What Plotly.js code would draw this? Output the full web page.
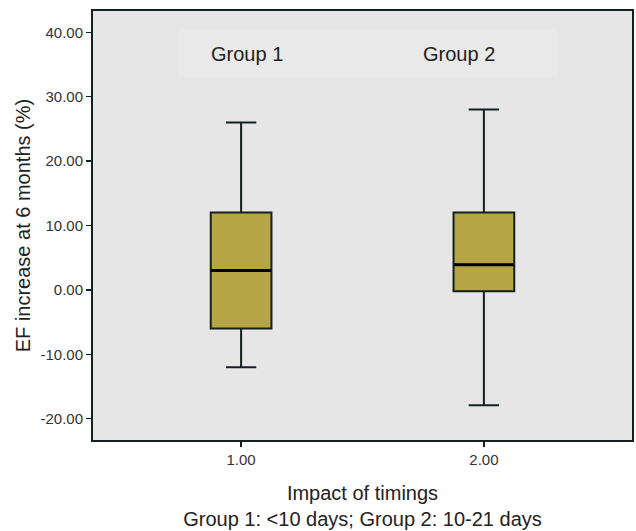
<!DOCTYPE html>
<html>
<head>
<meta charset="utf-8">
<script src="https://cdn.plot.ly/plotly-3.0.1.min.js"></script>
<style>html,body{margin:0;padding:0;background:#fff;}#chart{width:636px;height:531px;}</style>
</head>
<body>
<div id="chart"></div>
<script>
const groupX = [1, 2];
const groupNames = ["Group 1", "Group 2"];
const groupLabelX = [1.026, 1.896];
const tickLabels = ["1.00", "2.00"];
const lowerWhisker = [-12.0, -17.9];
const q1Values = [-6.0, -0.2];
const medianValues = [3.0, 3.9];
const q3Values = [12.0, 12.0];
const upperWhisker = [26.0, 28.0];
const yTicks = [-20, -10, 0, 10, 20, 30, 40];
const yTickLabels = ["-20.00", "-10.00", "0.00", "10.00", "20.00", "30.00", "40.00"];

const FONT = 'Liberation Sans, Arial, sans-serif';

const boxTrace = {
  type: 'box',
  x: groupX,
  q1: q1Values,
  median: medianValues,
  q3: q3Values,
  lowerfence: lowerWhisker,
  upperfence: upperWhisker,
  width: 0.25,
  whiskerwidth: 0.5,
  fillcolor: '#b6a545',
  line: {color: '#132020', width: 2},
  boxpoints: false,
  hoverinfo: 'skip',
  showlegend: false
};

// thicker median lines, derived from the data arrays
const medianTraces = groupX.map((gx, i) => ({
  type: 'scatter', mode: 'lines',
  x: [gx - 0.123, gx + 0.123],
  y: [medianValues[i], medianValues[i]],
  line: {color: '#000', width: 3},
  hoverinfo: 'skip', showlegend: false
}));

const annotations = groupX.map((gx, i) => ({
  x: groupLabelX[i], y: 36.7, xref: 'x', yref: 'y',
  text: groupNames[i], showarrow: false,
  font: {family: FONT, size: 20, color: '#222'}
}));

const layout = {
  width: 636, height: 531,
  margin: {l: 93, r: 4, t: 11, b: 91},
  paper_bgcolor: '#ffffff',
  plot_bgcolor: '#e6e6e6',
  font: {family: FONT, color: '#333'},
  xaxis: {
    type: 'linear',
    range: [0.39, 2.61],
    tickvals: groupX, ticktext: tickLabels,
    ticks: 'outside', ticklen: 5, tickwidth: 1.5, tickcolor: '#132020',
    tickfont: {size: 15, color: '#333'},
    showgrid: false, zeroline: false,
    showline: true, linecolor: '#132020', linewidth: 2, mirror: true,
    title: {text: 'Impact of timings<br>Group 1: <10 days; Group 2: 10-21 days', font: {size: 20, color: '#222'}, standoff: 19}
  },
  yaxis: {
    range: [-23.3, 43.3],
    tickvals: yTicks, ticktext: yTickLabels,
    ticks: 'outside', ticklen: 5, tickwidth: 1.5, tickcolor: '#132020',
    tickfont: {size: 15, color: '#333'},
    showgrid: false, zeroline: false,
    showline: true, linecolor: '#132020', linewidth: 2, mirror: true,
    title: {text: 'EF increase at 6 months (%)', font: {size: 20, color: '#222'}, standoff: 4}
  },
  shapes: [{
    type: 'rect', xref: 'paper', yref: 'paper', layer: 'below',
    x0: (178 - 93) / 539, x1: (558 - 93) / 539,
    y0: (440 - 77) / 429, y1: (440 - 29) / 429,
    fillcolor: '#e9e9e9', line: {width: 0}
  }],
  annotations: annotations
};

Plotly.newPlot('chart', [boxTrace].concat(medianTraces), layout, {displayModeBar: false, staticPlot: true});
</script>
</body>
</html>
